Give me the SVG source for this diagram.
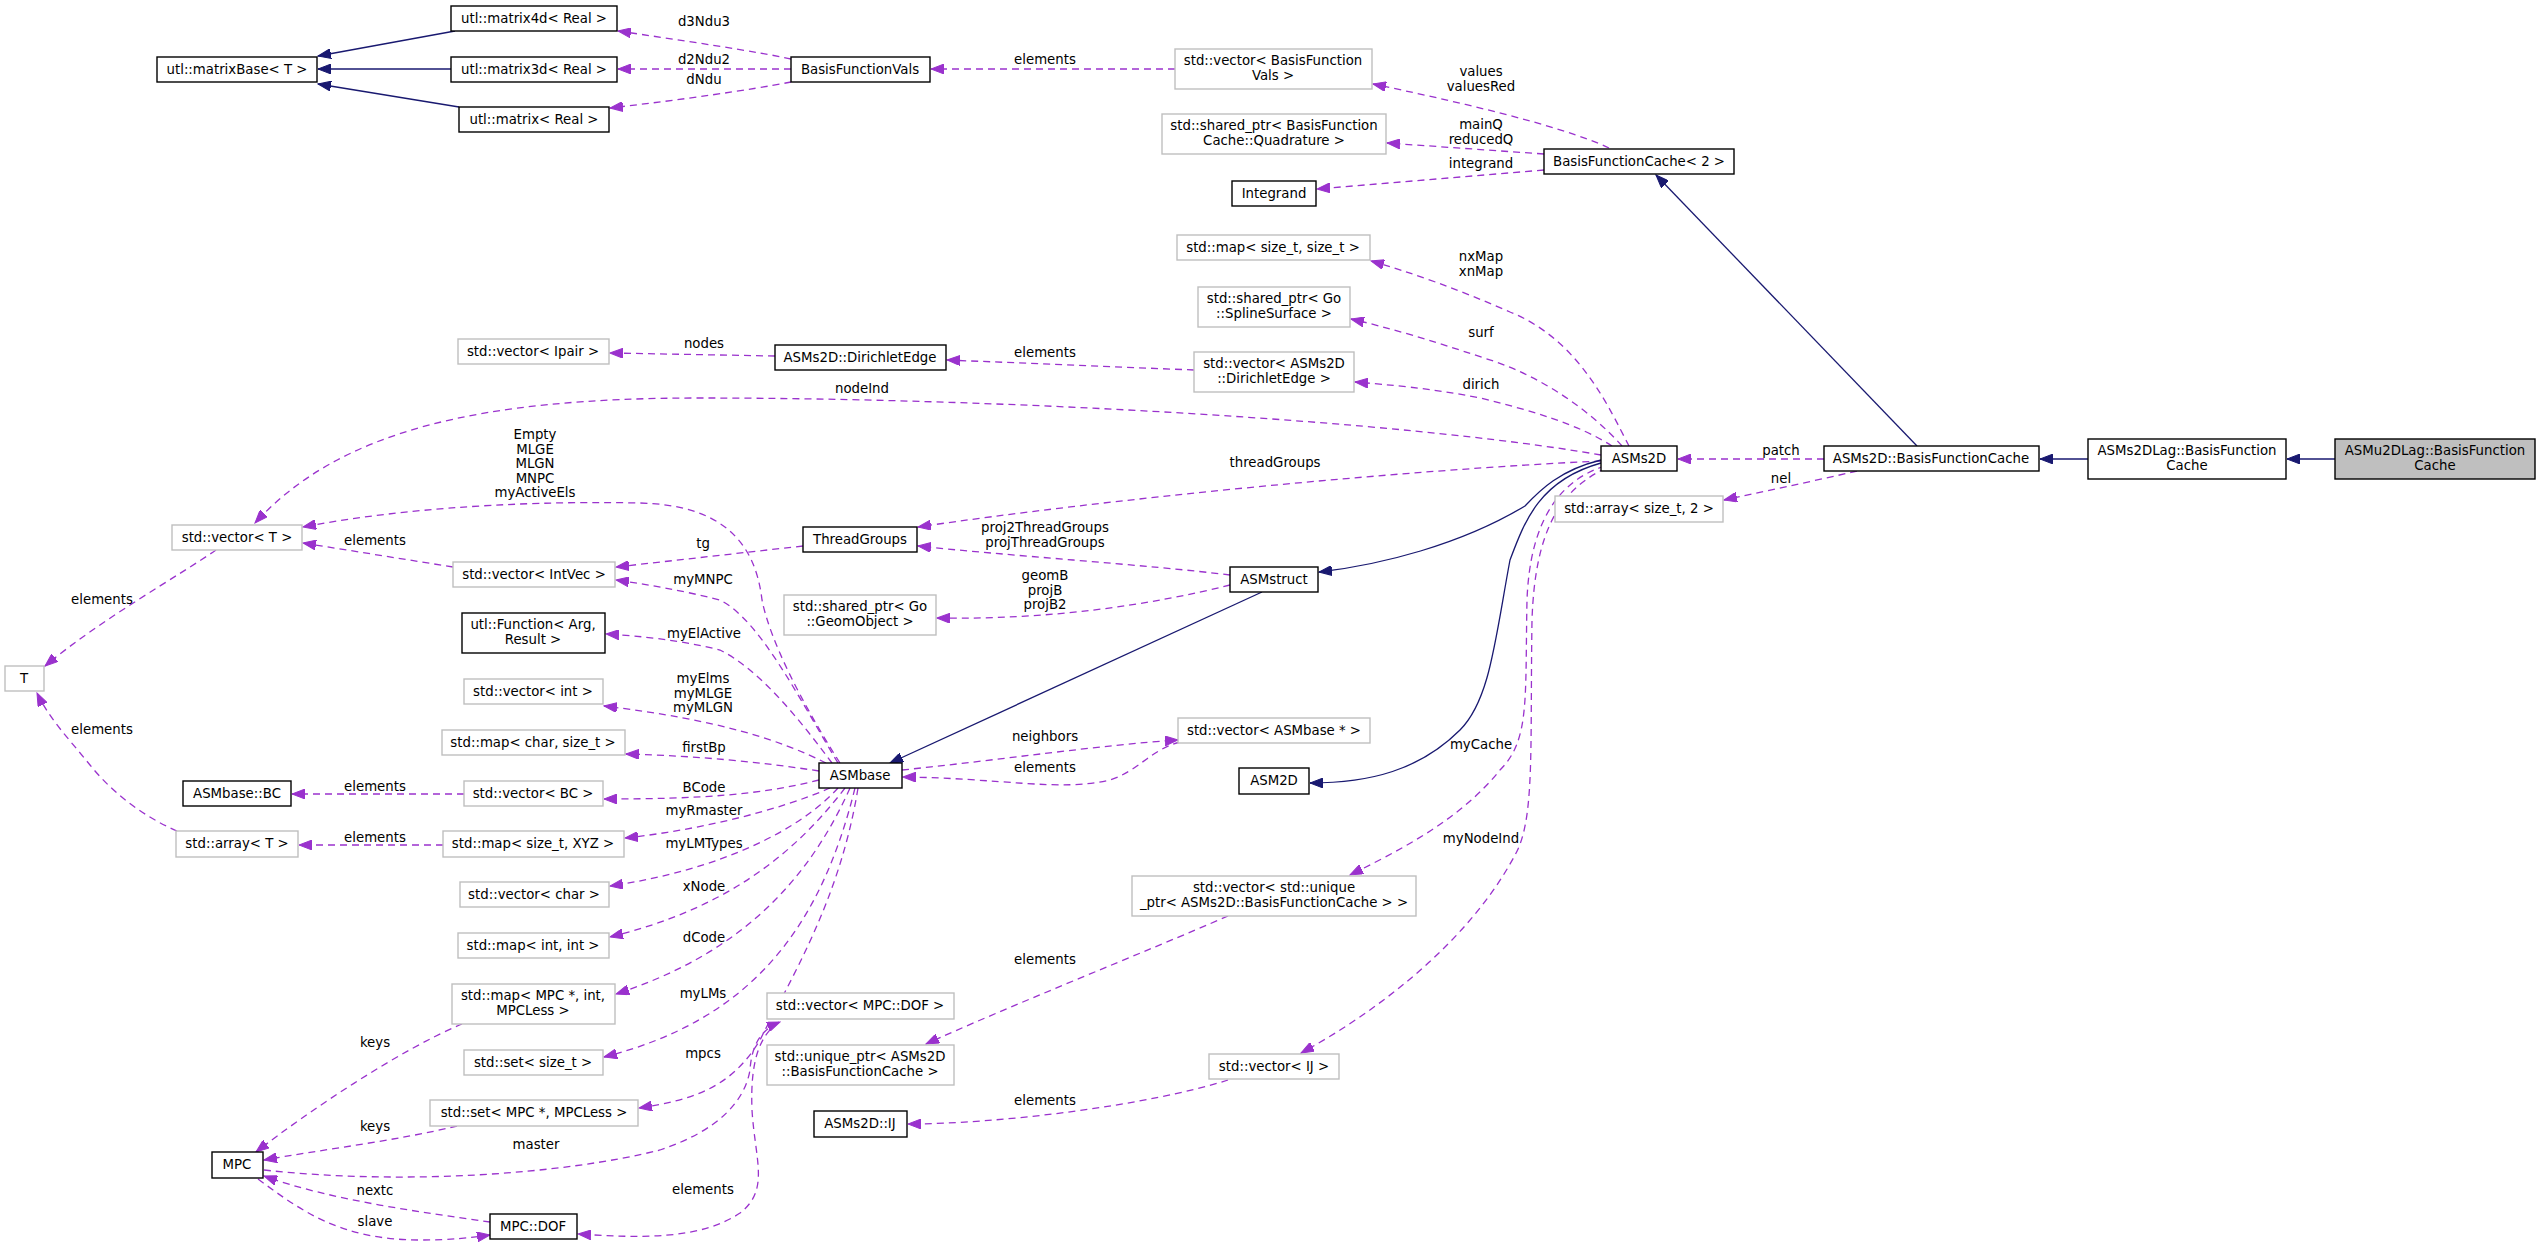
<svg xmlns="http://www.w3.org/2000/svg" width="2539" height="1246" viewBox="0 0 2539 1246">
<style>
text{font-family:"DejaVu Sans",sans-serif;font-size:13.3px;fill:#000;text-anchor:middle}
.b rect{fill:#fff;stroke:#000;stroke-width:1.4}
.g rect{fill:#fff;stroke:#bfbfbf;stroke-width:1.4}
.u{fill:none;stroke:#9a32cd;stroke-width:1.3;stroke-dasharray:7,5;marker-end:url(#ap)}
.i{fill:none;stroke:#191970;stroke-width:1.3;marker-end:url(#ab)}
</style>
<defs>
<marker id="ap" markerUnits="userSpaceOnUse" markerWidth="14" markerHeight="10" refX="13" refY="5" orient="auto"><path d="M0,0 L13,5 L0,10 Z" fill="#9a32cd" stroke="#9a32cd"/></marker>
<marker id="ab" markerUnits="userSpaceOnUse" markerWidth="14" markerHeight="10" refX="13" refY="5" orient="auto"><path d="M0,0 L13,5 L0,10 Z" fill="#191970" stroke="#191970"/></marker>
</defs>
<rect width="2539" height="1246" fill="#fff"/>
<g id="edges">
<path class="i" d="M455,31 L318,56"/>
<path class="i" d="M451,69 L318,69"/>
<path class="i" d="M459,107 L318,84"/>
<path class="u" d="M791,59 C760,52 680,40 618,31"/><text x="704" y="26">d3Ndu3</text>
<path class="u" d="M791,69 L618,69"/><text x="704" y="64">d2Ndu2</text>
<path class="u" d="M791,82 C750,90 680,100 610,108"/><text x="704" y="84">dNdu</text>
<path class="u" d="M1175,69 L931,69"/><text x="1045" y="64">elements</text>
<path class="u" d="M1609,148 C1560,125 1450,100 1373,84"/><text x="1481" y="76">values</text><text x="1481" y="91">valuesRed</text>
<path class="u" d="M1544,154 L1387,143"/><text x="1481" y="129">mainQ</text><text x="1481" y="144">reducedQ</text>
<path class="u" d="M1544,170 L1317,189"/><text x="1481" y="168">integrand</text>
<path class="i" d="M1917,446 L1656,175"/>
<path class="i" d="M2088,459 L2040,459"/>
<path class="i" d="M2335,459 L2287,459"/>
<path class="u" d="M1824,459 L1678,459"/><text x="1781" y="455">patch</text>
<path class="u" d="M1857,471 C1810,482 1760,492 1724,500"/><text x="1781" y="483">nel</text>
<path class="u" d="M1629,446 C1610,410 1580,340 1510,312 C1460,290 1410,272 1371,261"/><text x="1481" y="261">nxMap</text><text x="1481" y="276">xnMap</text>
<path class="u" d="M1622,446 C1590,410 1540,375 1484,358 C1430,340 1390,328 1351,319"/><text x="1481" y="337">surf</text>
<path class="u" d="M1612,446 C1580,425 1530,410 1480,398 C1430,388 1390,385 1355,382"/><text x="1481" y="389">dirich</text>
<path class="u" d="M1194,370 L947,360"/><text x="1045" y="357">elements</text>
<path class="u" d="M775,356 L610,353"/><text x="704" y="348">nodes</text>
<path class="u" d="M1601,455 C1400,420 1000,398 700,398 C480,398 340,430 255,523"/><text x="862" y="393">nodeInd</text>
<path class="u" d="M1601,461 C1400,470 1100,500 918,527"/><text x="1275" y="467">threadGroups</text>
<path class="u" d="M1230,575 C1150,565 1000,555 918,546"/><text x="1045" y="532">proj2ThreadGroups</text><text x="1045" y="547">projThreadGroups</text>
<path class="u" d="M1230,585 C1150,605 1050,620 937,618"/><text x="1045" y="580">geomB</text><text x="1045" y="595">projB</text><text x="1045" y="609">projB2</text>
<path class="i" d="M1601,460 C1560,470 1540,490 1525,506 C1460,545 1380,565 1319,572"/>
<path class="i" d="M1601,463 C1540,480 1525,520 1510,560 C1495,640 1490,700 1460,730 C1420,770 1370,783 1310,783"/>
<path class="i" d="M1262,592 L890,763"/>
<path class="u" d="M1605,466 C1560,480 1530,520 1527,600 C1525,700 1530,740 1500,770 C1460,820 1400,850 1350,875"/><text x="1481" y="749">myCache</text>
<path class="u" d="M1606,468 C1560,490 1535,530 1532,620 C1530,750 1535,820 1515,855 C1470,940 1380,1010 1301,1053"/><text x="1481" y="843">myNodeInd</text>
<path class="u" d="M1228,916 C1150,950 1000,1010 926,1044"/><text x="1045" y="964">elements</text>
<path class="u" d="M1228,1080 C1150,1105 1000,1124 908,1124"/><text x="1045" y="1105">elements</text>
<path class="u" d="M840,763 C800,700 770,640 762,600 C755,540 720,505 640,503 C500,500 380,512 303,527"/><text x="535" y="439">Empty</text><text x="535" y="454">MLGE</text><text x="535" y="468">MLGN</text><text x="535" y="483">MNPC</text><text x="535" y="497">myActiveEls</text>
<path class="u" d="M453,567 L303,543"/><text x="375" y="545">elements</text>
<path class="u" d="M803,546 L616,567"/><text x="703" y="548">tg</text>
<path class="u" d="M838,763 C800,700 760,620 720,600 C680,590 650,585 616,580"/><text x="703" y="584">myMNPC</text>
<path class="u" d="M832,763 C800,720 760,670 720,650 C680,640 640,636 606,634"/><text x="704" y="638">myElActive</text>
<path class="u" d="M826,763 C780,740 720,720 604,706"/><text x="703" y="683">myElms</text><text x="703" y="698">myMLGE</text><text x="703" y="712">myMLGN</text>
<path class="u" d="M819,771 C760,762 700,756 626,754"/><text x="704" y="752">firstBp</text>
<path class="u" d="M819,780 C760,795 700,799 604,799"/><text x="704" y="792">BCode</text>
<path class="u" d="M464,794 L292,794"/><text x="375" y="791">elements</text>
<path class="u" d="M830,788 C780,810 700,830 625,838"/><text x="704" y="815">myRmaster</text>
<path class="u" d="M443,845 L299,845"/><text x="375" y="842">elements</text>
<path class="u" d="M177,831 C140,815 110,790 90,765 C70,740 50,720 37,693"/><text x="102" y="734">elements</text>
<path class="u" d="M216,550 C180,575 100,620 45,666"/><text x="102" y="604">elements</text>
<path class="u" d="M838,788 C800,830 720,870 610,886"/><text x="704" y="848">myLMTypes</text>
<path class="u" d="M845,788 C790,860 720,910 610,937"/><text x="704" y="891">xNode</text>
<path class="u" d="M850,788 C800,900 720,960 616,994"/><text x="704" y="942">dCode</text>
<path class="u" d="M855,788 C820,930 750,1020 604,1057"/><text x="703" y="998">myLMs</text>
<path class="u" d="M858,788 C840,900 790,980 760,1040 C730,1090 690,1100 639,1108"/><text x="703" y="1058">mpcs</text>
<path class="u" d="M779,1022 C760,1035 750,1060 752,1110 C755,1160 770,1190 740,1213 C700,1240 640,1238 578,1234"/><text x="703" y="1194">elements</text>
<path class="u" d="M264,1170 C400,1185 560,1175 660,1150 C720,1130 745,1100 750,1070 C752,1040 765,1028 780,1022"/><text x="536" y="1149">master</text>
<path class="u" d="M490,1222 C420,1212 330,1200 264,1176"/><text x="375" y="1195">nextc</text>
<path class="u" d="M258,1179 C300,1210 340,1240 420,1240 C450,1240 470,1238 490,1235"/><text x="375" y="1226">slave</text>
<path class="u" d="M462,1024 C400,1050 310,1110 256,1152"/><text x="375" y="1047">keys</text>
<path class="u" d="M457,1126 C400,1140 320,1150 264,1160"/><text x="375" y="1131">keys</text>
<path class="u" d="M902,770 C1000,760 1100,745 1178,740"/><text x="1045" y="741">neighbors</text>
<path class="u" d="M1180,742 C1150,750 1140,770 1110,780 C1060,792 1000,778 903,777"/><text x="1045" y="772">elements</text>
</g>
<g id="n_matrix4d" class="b"><rect x="451" y="6" width="166" height="25"/><text x="534" y="23">utl::matrix4d&lt; Real &gt;</text></g>
<g id="n_matrixBase" class="b"><rect x="157" y="57" width="160" height="25"/><text x="237" y="74">utl::matrixBase&lt; T &gt;</text></g>
<g id="n_matrix3d" class="b"><rect x="451" y="57" width="166" height="25"/><text x="534" y="74">utl::matrix3d&lt; Real &gt;</text></g>
<g id="n_matrix" class="b"><rect x="459" y="107" width="150" height="25"/><text x="534" y="124">utl::matrix&lt; Real &gt;</text></g>
<g id="n_bfv" class="b"><rect x="791" y="57" width="139" height="25"/><text x="860" y="74">BasisFunctionVals</text></g>
<g id="n_vecbfv" class="g"><rect x="1175" y="49" width="197" height="40"/><text x="1273" y="65">std::vector&lt; BasisFunction</text><text x="1273" y="80">Vals &gt;</text></g>
<g id="n_quad" class="g"><rect x="1162" y="114" width="224" height="40"/><text x="1274" y="130">std::shared_ptr&lt; BasisFunction</text><text x="1274" y="145">Cache::Quadrature &gt;</text></g>
<g id="n_bfc2" class="b"><rect x="1544" y="149" width="190" height="25"/><text x="1639" y="166">BasisFunctionCache&lt; 2 &gt;</text></g>
<g id="n_integrand" class="b"><rect x="1232" y="181" width="84" height="25"/><text x="1274" y="198">Integrand</text></g>
<g id="n_mapss" class="g"><rect x="1177" y="235" width="193" height="25"/><text x="1273" y="252">std::map&lt; size_t, size_t &gt;</text></g>
<g id="n_surf" class="g"><rect x="1198" y="287" width="152" height="40"/><text x="1274" y="303">std::shared_ptr&lt; Go</text><text x="1274" y="318">::SplineSurface &gt;</text></g>
<g id="n_vecde" class="g"><rect x="1194" y="352" width="160" height="40"/><text x="1274" y="368">std::vector&lt; ASMs2D</text><text x="1274" y="383">::DirichletEdge &gt;</text></g>
<g id="n_de" class="b"><rect x="775" y="345" width="171" height="25"/><text x="860" y="362">ASMs2D::DirichletEdge</text></g>
<g id="n_ipair" class="g"><rect x="458" y="339" width="151" height="25"/><text x="533" y="356">std::vector&lt; Ipair &gt;</text></g>
<g id="n_asms2d" class="b"><rect x="1601" y="446" width="76" height="25"/><text x="1639" y="463">ASMs2D</text></g>
<g id="n_asms2dbfc" class="b"><rect x="1824" y="446" width="215" height="25"/><text x="1931" y="463">ASMs2D::BasisFunctionCache</text></g>
<g id="n_s2dlag" class="b"><rect x="2088" y="439" width="198" height="40"/><text x="2187" y="455">ASMs2DLag::BasisFunction</text><text x="2187" y="470">Cache</text></g>
<g id="n_u2dlag" class="b"><rect x="2335" y="439" width="200" height="40" style="fill:#bfbfbf"/><text x="2435" y="455">ASMu2DLag::BasisFunction</text><text x="2435" y="470">Cache</text></g>
<g id="n_arr2" class="g"><rect x="1555" y="496" width="168" height="26"/><text x="1639" y="513">std::array&lt; size_t, 2 &gt;</text></g>
<g id="n_tg" class="b"><rect x="803" y="527" width="114" height="25"/><text x="860" y="544">ThreadGroups</text></g>
<g id="n_vect" class="g"><rect x="172" y="525" width="130" height="25"/><text x="237" y="542">std::vector&lt; T &gt;</text></g>
<g id="n_intvec" class="g"><rect x="453" y="562" width="162" height="25"/><text x="534" y="579">std::vector&lt; IntVec &gt;</text></g>
<g id="n_asmstruct" class="b"><rect x="1230" y="567" width="88" height="25"/><text x="1274" y="584">ASMstruct</text></g>
<g id="n_geom" class="g"><rect x="784" y="595" width="152" height="40"/><text x="860" y="611">std::shared_ptr&lt; Go</text><text x="860" y="626">::GeomObject &gt;</text></g>
<g id="n_func" class="b"><rect x="462" y="613" width="143" height="40"/><text x="533" y="629">utl::Function&lt; Arg,</text><text x="533" y="644">Result &gt;</text></g>
<g id="n_T" class="g"><rect x="5" y="666" width="39" height="25"/><text x="24" y="683">T</text></g>
<g id="n_vint" class="g"><rect x="464" y="679" width="139" height="25"/><text x="533" y="696">std::vector&lt; int &gt;</text></g>
<g id="n_mapchar" class="g"><rect x="442" y="730" width="183" height="25"/><text x="533" y="747">std::map&lt; char, size_t &gt;</text></g>
<g id="n_bc" class="b"><rect x="183" y="781" width="108" height="25"/><text x="237" y="798">ASMbase::BC</text></g>
<g id="n_vbc" class="g"><rect x="464" y="781" width="139" height="25"/><text x="533" y="798">std::vector&lt; BC &gt;</text></g>
<g id="n_arrt" class="g"><rect x="176" y="831" width="122" height="26"/><text x="237" y="848">std::array&lt; T &gt;</text></g>
<g id="n_mapxyz" class="g"><rect x="443" y="831" width="181" height="26"/><text x="533" y="848">std::map&lt; size_t, XYZ &gt;</text></g>
<g id="n_vchar" class="g"><rect x="460" y="882" width="149" height="25"/><text x="534" y="899">std::vector&lt; char &gt;</text></g>
<g id="n_mapint" class="g"><rect x="458" y="933" width="151" height="25"/><text x="533" y="950">std::map&lt; int, int &gt;</text></g>
<g id="n_mapmpc" class="g"><rect x="452" y="984" width="163" height="40"/><text x="533" y="1000">std::map&lt; MPC *, int,</text><text x="533" y="1015">MPCLess &gt;</text></g>
<g id="n_setsz" class="g"><rect x="464" y="1050" width="139" height="25"/><text x="533" y="1067">std::set&lt; size_t &gt;</text></g>
<g id="n_setmpc" class="g"><rect x="430" y="1100" width="208" height="26"/><text x="534" y="1117">std::set&lt; MPC *, MPCLess &gt;</text></g>
<g id="n_mpc" class="b"><rect x="212" y="1152" width="51" height="26"/><text x="237" y="1169">MPC</text></g>
<g id="n_dof" class="b"><rect x="490" y="1214" width="87" height="25"/><text x="533" y="1231">MPC::DOF</text></g>
<g id="n_asmbase" class="b"><rect x="819" y="763" width="83" height="25"/><text x="860" y="780">ASMbase</text></g>
<g id="n_vasmbase" class="g"><rect x="1178" y="718" width="192" height="25"/><text x="1274" y="735">std::vector&lt; ASMbase * &gt;</text></g>
<g id="n_asm2d" class="b"><rect x="1239" y="768" width="70" height="26"/><text x="1274" y="785">ASM2D</text></g>
<g id="n_vuniq" class="g"><rect x="1132" y="876" width="284" height="40"/><text x="1274" y="892">std::vector&lt; std::unique</text><text x="1274" y="907">_ptr&lt; ASMs2D::BasisFunctionCache &gt; &gt;</text></g>
<g id="n_vdof" class="g"><rect x="767" y="993" width="187" height="26"/><text x="860" y="1010">std::vector&lt; MPC::DOF &gt;</text></g>
<g id="n_uniq" class="g"><rect x="767" y="1045" width="187" height="40"/><text x="860" y="1061">std::unique_ptr&lt; ASMs2D</text><text x="860" y="1076">::BasisFunctionCache &gt;</text></g>
<g id="n_ij" class="b"><rect x="814" y="1111" width="93" height="26"/><text x="860" y="1128">ASMs2D::IJ</text></g>
<g id="n_vij" class="g"><rect x="1209" y="1054" width="130" height="25"/><text x="1274" y="1071">std::vector&lt; IJ &gt;</text></g>
</svg>
